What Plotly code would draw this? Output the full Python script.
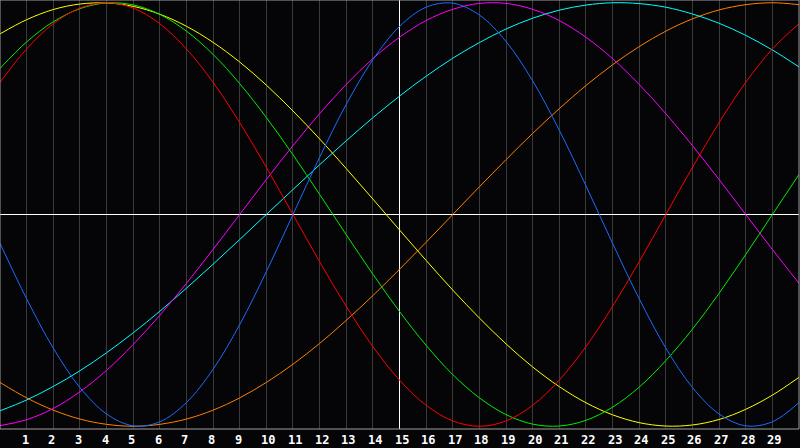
import plotly.graph_objects as go

# Days shown along the x axis (0..30), one reading per day
days = list(range(31))
day_labels = [str(d) for d in range(1, 30)]
today = 15

# Cycle values read per day from the chart (range -1..1)
blue_vals = [-0.136, -0.398, -0.631, -0.817, -0.942, -0.998, -0.979, -0.888, -0.731, -0.520,
             -0.270, 0.000, 0.270, 0.520, 0.731, 0.888, 0.979, 0.998, 0.942, 0.817,
             0.631, 0.398, 0.136, -0.136, -0.398, -0.631, -0.817, -0.942, -0.998, -0.979, -0.888]
red_vals = [0.624, 0.782, 0.901, 0.975, 1.000, 0.975, 0.901, 0.782, 0.624, 0.434,
            0.223, 0.000, -0.223, -0.434, -0.624, -0.782, -0.901, -0.975, -1.000, -0.975,
            -0.901, -0.782, -0.624, -0.434, -0.223, 0.000, 0.223, 0.434, 0.624, 0.782, 0.901]
green_vals = [0.690, 0.815, 0.910, 0.972, 0.999, 0.990, 0.945, 0.866, 0.756, 0.618,
              0.458, 0.282, 0.095, -0.095, -0.282, -0.458, -0.618, -0.756, -0.866, -0.945,
              -0.990, -0.999, -0.972, -0.910, -0.815, -0.690, -0.541, -0.372, -0.189, 0.000, 0.189]
magenta_vals = [-0.997, -0.969, -0.916, -0.837, -0.736, -0.614, -0.476, -0.325, -0.165, 0.000,
                0.165, 0.325, 0.476, 0.614, 0.736, 0.837, 0.916, 0.969, 0.997, 0.997,
                0.969, 0.916, 0.837, 0.736, 0.614, 0.476, 0.325, 0.165, 0.000, -0.165, -0.325]
yellow_vals = [0.853, 0.920, 0.968, 0.994, 0.999, 0.983, 0.946, 0.889, 0.813, 0.720,
               0.611, 0.489, 0.357, 0.217, 0.073, -0.073, -0.217, -0.357, -0.489, -0.611,
               -0.720, -0.813, -0.889, -0.946, -0.983, -0.999, -0.994, -0.968, -0.920, -0.853, -0.769]
orange_vals = [-0.793, -0.866, -0.924, -0.966, -0.991, -1.000, -0.991, -0.966, -0.924, -0.866,
               -0.793, -0.707, -0.609, -0.500, -0.383, -0.259, -0.131, 0.000, 0.131, 0.259,
               0.383, 0.500, 0.609, 0.707, 0.793, 0.866, 0.924, 0.966, 0.991, 1.000, 0.991]
cyan_vals = [-0.927, -0.876, -0.812, -0.738, -0.653, -0.559, -0.457, -0.348, -0.235, -0.118,
             0.000, 0.118, 0.235, 0.348, 0.457, 0.559, 0.653, 0.738, 0.812, 0.876,
             0.927, 0.965, 0.989, 1.000, 0.996, 0.979, 0.947, 0.903, 0.846, 0.777, 0.697]

series = [
    ("orange", orange_vals, "#ff8000"),
    ("cyan", cyan_vals, "#00ffff"),
    ("magenta", magenta_vals, "#ff00ff"),
    ("yellow", yellow_vals, "#ffff00"),
    ("green", green_vals, "#00ee00"),
    ("red", red_vals, "#ff0000"),
    ("blue", blue_vals, "#1a6cff"),
]

Y_LIM = 1.013

fig = go.Figure()
# Center cross (today / zero line), drawn under the curves
fig.add_trace(go.Scatter(x=[days[0], days[-1]], y=[0, 0], mode="lines",
                         line=dict(color="white", width=1), hoverinfo="skip", showlegend=False))
fig.add_trace(go.Scatter(x=[today, today], y=[-Y_LIM, Y_LIM], mode="lines",
                         line=dict(color="white", width=1), hoverinfo="skip", showlegend=False))

for name, vals, color in series:
    fig.add_trace(go.Scatter(x=days, y=vals, mode="lines", name=name,
                             line=dict(color=color, width=1, shape="spline"),
                             hoverinfo="skip", showlegend=False))

# Border
fig.add_shape(type="rect", xref="paper", yref="paper", x0=0, x1=1, y0=0, y1=1,
              line=dict(color="#a0a0a0", width=1), layer="above")

# Day labels
for i, lab in enumerate(day_labels):
    d = i + 1
    fig.add_annotation(x=d, y=0, xref="x", yref="paper", text="<b>%s</b>" % lab,
                       showarrow=False, xanchor="left", yanchor="top", xshift=-7, yshift=-2,
                       font=dict(family="DejaVu Sans Mono", size=12, color="white"))

fig.update_xaxes(range=[0, 30], tickvals=[d for d in range(1, 30) if d != today],
                 showticklabels=False, showgrid=True, gridcolor="#3a3a3a", gridwidth=1,
                 zeroline=False, showline=False, fixedrange=True)
fig.update_yaxes(range=[-Y_LIM, Y_LIM], showticklabels=False, showgrid=False,
                 zeroline=False, showline=False, fixedrange=True)

fig.update_layout(width=800, height=448, margin=dict(l=0, r=1, t=0, b=19),
                  paper_bgcolor="#050508", plot_bgcolor="#050508")

fig.write_html("out.html", config={"displayModeBar": False},
               post_script="document.body.style.margin='0';document.body.style.padding='0';"
                           "document.body.style.overflow='hidden';"
                           "document.body.style.background='#050508';")
